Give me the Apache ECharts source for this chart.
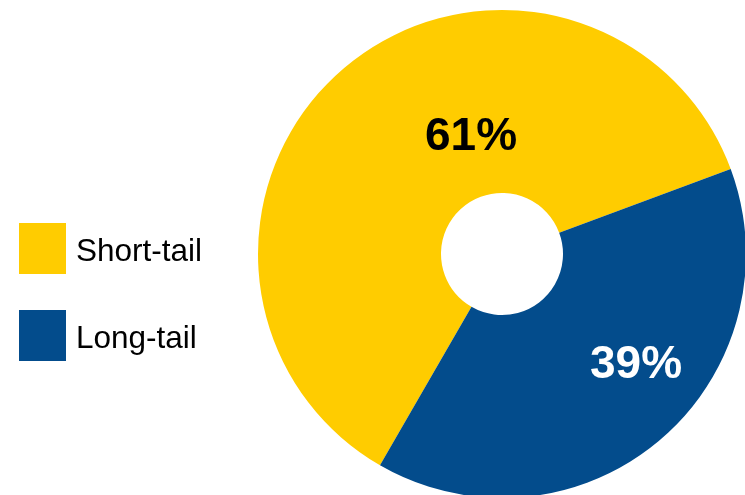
<!DOCTYPE html>
<html>
<head>
<meta charset="utf-8">
<script src="https://cdn.jsdelivr.net/npm/echarts@6/dist/echarts.min.js"></script>
<style>
html,body{margin:0;padding:0;background:#fff;}
#chart{width:745px;height:495px;}
</style>
</head>
<body>
<div id="chart"></div>
<script>
const categories = ['Short-tail', 'Long-tail'];
const values = [61, 39];
const colors = ['#FFCC00', '#034C8C'];
const labelColors = ['#000000', '#FFFFFF'];
const labelPos = [[471, 137], [636, 365]];

const chart = echarts.init(document.getElementById('chart'), null, {renderer: 'canvas'});
chart.setOption({
  animation: false,
  backgroundColor: '#ffffff',
  legend: {
    orient: 'vertical',
    left: 19,
    top: 223,
    padding: 0,
    itemWidth: 47,
    itemHeight: 51,
    itemGap: 36,
    icon: 'rect',
    data: categories,
    formatter: name => '{t|' + name + '}',
    textStyle: {
      rich: {
        t: {fontFamily: 'Liberation Sans, Arial, sans-serif', fontSize: 31.5, color: '#000', padding: [8, 0, 0, 5]}
      }
    },
    selectedMode: false
  },
  series: [{
    type: 'pie',
    center: [502, 254],
    radius: [61, 244],
    startAngle: 240,
    clockwise: true,
    silent: true,
    data: categories.map((c, i) => ({
      name: c,
      value: values[i],
      itemStyle: {color: colors[i]},
      label: {color: labelColors[i]}
    })),
    label: {
      show: true,
      position: 'inside',
      formatter: p => p.value + '%',
      fontFamily: 'Liberation Sans, Arial, sans-serif',
      fontWeight: 'bold',
      fontSize: 46
    },
    labelLine: {show: false},
    labelLayout: function (params) {
      const p = labelPos[params.dataIndex];
      return {x: p[0], y: p[1], align: 'center', verticalAlign: 'middle'};
    }
  }]
});
</script>
</body>
</html>
